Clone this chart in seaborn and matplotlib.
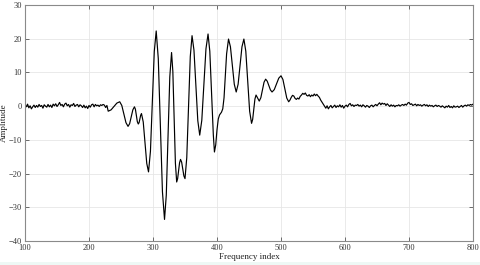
import numpy as np
import pandas as pd
import matplotlib
matplotlib.use("Agg")
import matplotlib.pyplot as plt
from matplotlib.patches import Rectangle
import seaborn as sns

# ---- data ----
left_x = list(range(100, 228, 2))
left_y = [0.4, -0.2, 0.6, -0.5, 0.1, -0.8, -0.2, 0.3, -0.4, 0.2,
          -0.3, 0.5, -0.1, 0.2, -0.6, 0.4, 0.0, -0.3, 0.5, -0.2,
          0.3, -0.4, 0.6, 0.1, 0.7, -0.1, 0.4, 1.1, 0.2, 0.5,
          -0.2, 0.6, 0.9, 0.1, 0.5, -0.3, 0.4, 0.2, 0.8, -0.1,
          0.3, 0.5, -0.2, 0.4, 0.1, -0.4, 0.3, -0.5, 0.0, -0.7,
          0.2, -0.3, 0.4, 0.6, -0.2, 0.5, 0.1, 0.3, -0.1, 0.4,
          0.2, 0.5, 0.3, -0.4]

mid_x = [228, 230, 234.5, 239, 243.5, 248, 251.25, 254.5, 257.75, 261,
         263.5, 266, 268.5, 271, 272.5, 274, 275.5, 277, 278.25, 279.5,
         280.75, 282, 284.75, 287.5, 290.25, 293, 296, 299, 302, 305,
         308.25, 311.5, 314.75, 318, 320.75, 323.5, 326.25, 329, 331, 333,
         335, 337, 338.5, 340, 341.5, 343, 344.75, 346.5, 348.25, 350,
         352.75, 355.5, 358.25, 361, 364, 367, 370, 373, 376.25, 379.5,
         382.75, 386, 388.75, 391.5, 394.25, 396, 398, 400, 402, 404,
         407, 409, 411, 413, 415, 418, 421, 424, 427, 430,
         433, 436, 439, 442, 445, 448, 451, 454, 455.75, 457.5,
         459.25, 461, 463.5, 466, 468.5, 471, 473.5, 476, 478.5, 481,
         483.5, 486, 489.5, 493, 496.5, 500, 503, 506, 509, 512]
mid_y = [0.2, -1.5, -1.1, -0.1, 0.9, 1.3, 0.2, -2.4, -4.9, -6.0,
         -5.2, -3.1, -1.1, -0.2, -0.9, -2.8, -4.6, -5.3, -4.9, -3.8,
         -2.7, -2.2, -4.7, -10.9, -17.0, -19.5, -13.4, 1.4, 16.2, 22.3,
         14.1, -5.7, -25.4, -33.6, -26.4, -8.9, 8.7, 15.9, 10.3, -3.3,
         -16.9, -22.5, -21.5, -19.2, -16.8, -15.8, -16.6, -18.7, -20.7, -21.5,
         -15.3, -0.3, 14.7, 20.9, 16.6, 6.2, -4.3, -8.6, -4.2, 6.4,
         17.0, 21.4, 16.3, 3.9, -8.5, -13.6, -11.5, -7.0, -3.8, -2.6,
         -1.8, -0.8, 2.5, 9.0, 15.5, 19.9, 17.6, 12.1, 6.5, 4.2,
         6.5, 12.1, 17.6, 19.9, 16.3, 7.4, -1.5, -5.1, -3.9, -0.9,
         2.1, 3.3, 2.4, 1.5, 2.5, 4.8, 7.1, 8.0, 7.4, 6.1,
         4.8, 4.2, 4.9, 6.6, 8.3, 9.0, 7.9, 5.2, 2.4, 1.3]

tail_x = list(range(514, 570, 2))
tail_y = [1.8, 2.6, 3.2, 3.0, 2.3, 2.0, 2.4, 2.1, 2.9, 3.3,
          3.8, 3.5, 3.9, 3.2, 3.0, 3.4, 2.8, 3.3, 3.0, 3.6,
          3.1, 3.5, 3.0, 2.6, 1.8, 1.2, 0.6, 0.0]

right_x = list(range(570, 802, 2))
right_y = [-0.6, 0.1, -0.8, -0.2, 0.2, -0.5, -0.1, 0.3, -0.4, 0.1, -0.2, 0.4, -0.3, 0.2, -0.6,
           0.0, 0.3, -0.2, 0.5, 0.8, 0.1, 0.4, -0.1, 0.3, 0.2, 0.5, 0.0, 0.3, -0.2, 0.4,
           0.1, -0.3, 0.2, 0.0, -0.4, 0.1, 0.3, -0.2, 0.2, 0.5, 0.1, 0.6, 1.0, 0.4, 0.9,
           0.6, 0.8, 0.2, 0.7, 0.3, -0.1, 0.4, 0.0, 0.3, -0.2, 0.2, 0.1, 0.4, 0.0, 0.3,
           0.5, 0.2, 0.6, 0.3, 0.9, 1.1, 0.5, 0.7, 0.2, 0.4, 0.6, 0.1, 0.5, 0.2, 0.4,
           0.0, 0.3, 0.5, 0.1, 0.4, -0.1, 0.3, 0.0, 0.2, -0.2, 0.1, 0.3, -0.1, 0.2, 0.0,
           -0.3, 0.1, -0.2, -0.5, 0.0, -0.3, 0.2, -0.4, -0.1, -0.5, 0.1, -0.3, -0.2, 0.0, -0.4,
           -0.1, 0.2, -0.3, 0.1, 0.3, 0.0, 0.4, 0.2, 0.5, 0.3,
           0.6]

x_ticks = [100, 200, 300, 400, 500, 600, 700, 800]
y_ticks = [-40, -30, -20, -10, 0, 10, 20, 30]

df = pd.DataFrame({
    "Frequency index": left_x + mid_x + tail_x + right_x,
    "Amplitude": left_y + mid_y + tail_y + right_y,
})

sns.set_style("whitegrid")
plt.rcParams["font.family"] = ["Liberation Serif", "DejaVu Serif"]

fig = plt.figure(figsize=(4.8, 2.65), dpi=100)
# faint band along the bottom edge of the reference image
fig.patches.append(Rectangle((0, 0), 1, 3/265, transform=fig.transFigure,
                             facecolor="#eef8f5", edgecolor="none", zorder=0))
ax = fig.add_axes([25/480, 1 - 241/265, 448/480, 236/265])
sns.lineplot(data=df, x="Frequency index", y="Amplitude", ax=ax,
             color="black", linewidth=0.85, sort=False, estimator=None)

ax.set_xlim(100, 800)
ax.set_ylim(-40, 30)
ax.set_xticks(x_ticks)
ax.set_yticks(y_ticks)
ax.grid(True, color="#e6e6e6", linewidth=0.6)
for s in ax.spines.values():
    s.set_color("#8a8a8a")
    s.set_linewidth(0.8)
ax.tick_params(direction="in", length=3, width=0.6, color="#555555",
               labelsize=6, labelcolor="#333333", pad=2,
               top=True, right=True, bottom=True, left=True)
ax.set_xlabel("Frequency index", fontsize=6.5, labelpad=1, color="#222222")
ax.set_ylabel("Amplitude", fontsize=6.5, labelpad=1, color="#222222")

fig.savefig("out.png", dpi=100)
